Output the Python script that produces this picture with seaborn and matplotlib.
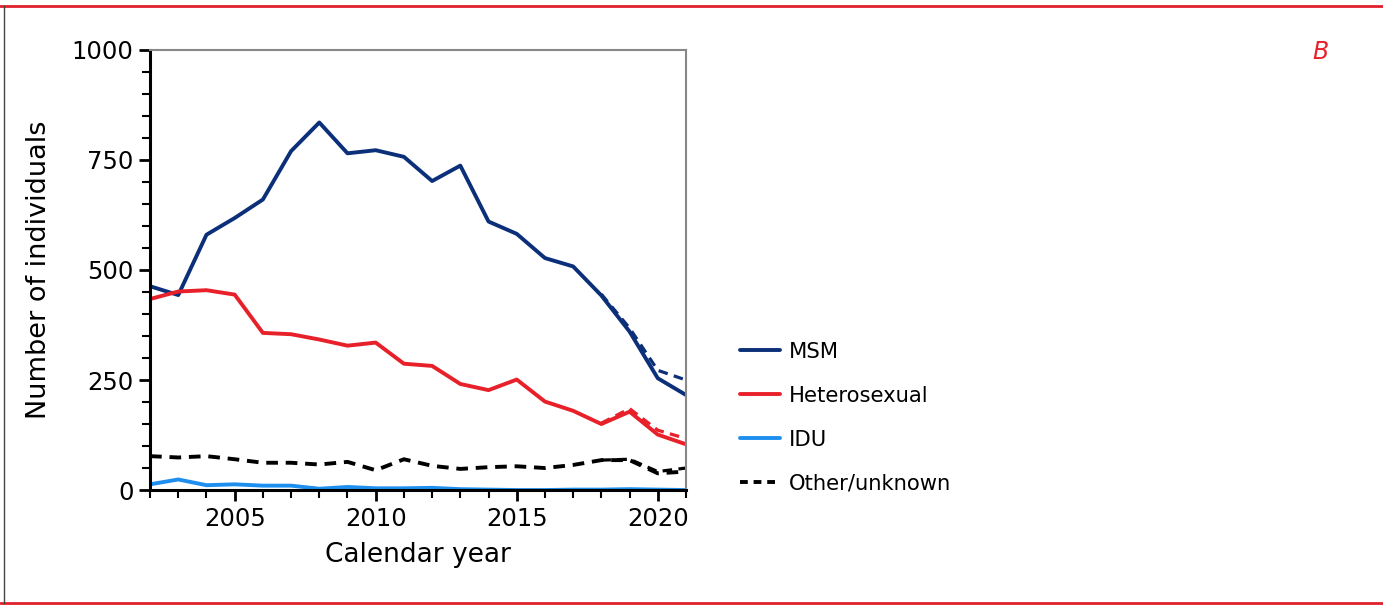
import numpy as np
import pandas as pd
import matplotlib
matplotlib.use('Agg')
import matplotlib.pyplot as plt
import seaborn as sns
from matplotlib.ticker import MultipleLocator
from matplotlib.lines import Line2D

years = list(range(2002, 2022))
msm = [463, 443, 580, 618, 660, 770, 835, 765, 772, 757, 702, 737, 610, 582, 527, 508, 442, 360, 254, 216]
hetero = [434, 451, 454, 444, 357, 354, 342, 328, 335, 287, 282, 241, 227, 251, 201, 180, 150, 178, 126, 104]
idu = [13, 24, 11, 13, 10, 10, 3, 7, 4, 4, 5, 2, 1, 0, 0, 1, 1, 2, 1, 0]
other = [77, 74, 77, 70, 62, 62, 58, 64, 45, 70, 55, 48, 52, 54, 50, 57, 68, 68, 38, 42]

# adjusted estimates for the last years (dashed)
adj_years = [2018, 2019, 2020, 2021]
msm_adj = [445, 368, 272, 250]
hetero_adj = [152, 185, 136, 117]
other_adj = [68, 70, 42, 50]

labels = ['MSM', 'Heterosexual', 'IDU', 'Other/unknown']
colors = ['#0b2f78', '#e8202a', '#1e8fef', '#000000']

sns.set_style('white')
plt.rcParams['font.family'] = ['DejaVu Sans']
plt.rcParams['text.color'] = 'black'
plt.rcParams['axes.labelcolor'] = 'black'
plt.rcParams['xtick.color'] = 'black'
plt.rcParams['ytick.color'] = 'black'

fig = plt.figure(figsize=(13.83, 6.08), dpi=100)
ax = fig.add_axes([0.1085, 0.194, 0.3875, 0.724])

sns.lineplot(x=years, y=msm, color=colors[0], lw=2.8, ax=ax)
sns.lineplot(x=years, y=hetero, color=colors[1], lw=2.8, ax=ax)
sns.lineplot(x=years, y=idu, color=colors[2], lw=2.8, ax=ax)
sns.lineplot(x=years, y=other, color=colors[3], lw=2.8, ax=ax, linestyle=(0, (3, 2)))
sns.lineplot(x=adj_years, y=msm_adj, color=colors[0], lw=2.3, ax=ax, linestyle=(0, (3, 2)))
sns.lineplot(x=adj_years, y=hetero_adj, color=colors[1], lw=2.3, ax=ax, linestyle=(0, (3, 2)))
sns.lineplot(x=adj_years, y=other_adj, color=colors[3], lw=2.3, ax=ax, linestyle=(0, (3, 2)))

ax.set_xlim(2002, 2021)
ax.set_ylim(0, 1000)
ax.set_yticks([0, 250, 500, 750, 1000])
ax.set_xticks([2005, 2010, 2015, 2020])
ax.xaxis.set_minor_locator(MultipleLocator(1))
ax.yaxis.set_minor_locator(MultipleLocator(50))
ax.tick_params(axis='both', which='major', direction='out', length=8, width=2, labelsize=17.5,
               bottom=True, left=True, pad=4)
ax.tick_params(axis='both', which='minor', direction='out', length=6, width=1.5,
               bottom=True, left=True)
for s in ['left', 'bottom']:
    ax.spines[s].set_color('black')
    ax.spines[s].set_linewidth(2.2)
for s in ['top', 'right']:
    ax.spines[s].set_color('#888888')
    ax.spines[s].set_linewidth(1.5)
ax.set_xlabel('Calendar year', fontsize=19, labelpad=8)
ax.set_ylabel('Number of individuals', fontsize=19.5, labelpad=14)

handles = [Line2D([], [], color=c, lw=2.8, linestyle='-' if i < 3 else (0, (2, 1.5)))
           for i, c in enumerate(colors)]
fig.legend(handles, labels, loc='upper left', bbox_to_anchor=(0.521, 0.469), frameon=False,
           fontsize=15.2, handlelength=1.9, handletextpad=0.45, labelspacing=1.13)

fig.text(0.9545, 0.915, 'B', color='#e8202a', fontsize=17, style='italic', ha='center', va='center')

# frame lines
fig.add_artist(Line2D([0, 1], [1 - 6 / 608, 1 - 6 / 608], color='#e0202a', lw=2, transform=fig.transFigure))
fig.add_artist(Line2D([0, 1], [1 - 603 / 608, 1 - 603 / 608], color='#e0202a', lw=2, transform=fig.transFigure))
fig.add_artist(Line2D([4 / 1383, 4 / 1383], [1 - 603 / 608, 1 - 6 / 608], color='#444444', lw=1, transform=fig.transFigure))

fig.savefig('out.png', dpi=100)
